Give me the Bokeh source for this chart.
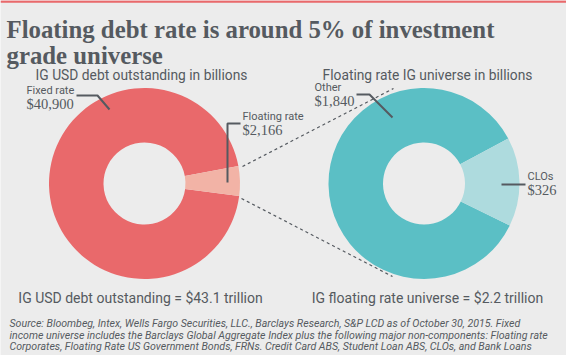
import math
from bokeh.plotting import figure
from bokeh.models import Range1d
from bokeh.core.properties import value
from bokeh.embed import file_html
from bokeh.resources import INLINE

# ---------------- data ----------------
title_lines = ["Floating debt rate is around 5% of investment", "grade universe"]
left_title = "IG USD debt outstanding in billions"
right_title = "Floating rate IG universe in billions"
left_cats = ["Fixed rate", "Floating rate"]
left_vals = [40900, 2166]
right_cats = ["Other", "CLOs"]
right_vals = [1840, 326]
left_total = "IG USD debt outstanding = $43.1 trillion"
right_total = "IG floating rate universe = $2.2 trillion"
source_lines = [
    "Source: Bloombeg, Intex, Wells Fargo Securities, LLC., Barclays Research, S&P LCD as of October 30, 2015. Fixed",
    "income universe includes the Barclays Global Aggregate Index plus the following major non-components: Floating rate",
    "Corporates, Floating Rate US Government Bonds, FRNs. Credit Card ABS, Student Loan ABS, CLOs, and Bank Loans",
]

# ---------------- style ----------------
W, H = 566, 355
BG = "#ececec"
TXT = "#555a60"
RED = "#e9696b"
SALMON = "#f2b3a6"
TEAL = "#5bbfc5"
LTEAL = "#aedbde"
SANS = value("Roboto")
SERIF = value("Liberation Serif")

p = figure(width=W, height=H, output_backend="svg", toolbar_location=None,
           x_range=Range1d(0, W), y_range=Range1d(-H, 0),
           x_axis_type=None, y_axis_type=None,
           min_border=0, min_border_left=0, min_border_right=0,
           min_border_top=0, min_border_bottom=0)
p.background_fill_color = BG
p.border_fill_color = BG
p.outline_line_color = None
p.grid.visible = False

# top accent line
p.segment(x0=[0], y0=[-1], x1=[W], y1=[-1], line_color=RED, line_width=2.5)


def donut(cx, cy, vals, colors, center_deg):
    total = float(sum(vals))
    hi = vals[1] / total * 360.0
    s = math.radians(center_deg - hi / 2.0)
    e = math.radians(center_deg + hi / 2.0)
    p.annular_wedge(x=[cx, cx], y=[-cy, -cy], inner_radius=41, outer_radius=95.5,
                    start_angle=[e, s], end_angle=[s + 2 * math.pi, e],
                    fill_color=colors, line_color=None)


donut(144, 183, left_vals, [RED, SALMON], 1.5)
donut(423.5, 183, right_vals, [TEAL, LTEAL], 1.0)

# dashed connectors
p.segment(x0=[242, 241], y0=[-166, -198], x1=[393, 392], y1=[-88, -276],
          line_color=TXT, line_width=1.2, line_dash="3 3")

# leader lines
p.line(x=[76, 97, 109], y=[-95, -95, -109], line_color=TXT, line_width=2)
p.line(x=[240, 227, 227], y=[-123, -123, -182], line_color=TXT, line_width=2)
p.line(x=[356, 369, 392], y=[-94, -94, -117], line_color=TXT, line_width=2)
p.line(x=[501, 525], y=[-184, -184], line_color=TXT, line_width=2)

# title
p.text(x=[6, 6], y=[-29, -55], text=title_lines, text_font=SERIF,
       text_font_size="24.8px", text_font_style="bold", text_color=TXT,
       text_baseline="alphabetic", text_align="left")

# subtitles
p.text(x=[141, 427], y=[-74, -74], text=[left_title, right_title], text_font=SANS,
       text_font_size="13.8px", text_color=TXT, text_baseline="middle", text_align="center")

# slice labels
lab_x = [26, 242, 314, 527]
lab_y = [90, 116, 87, 176]
cats = [left_cats[0], left_cats[1], right_cats[0], right_cats[1]]
vals = [left_vals[0], left_vals[1], right_vals[0], right_vals[1]]
p.text(x=lab_x, y=[-v for v in lab_y], text=cats, text_font=SANS,
       text_font_size="11px", text_color=TXT, text_baseline="middle", text_align="left")
p.text(x=lab_x, y=[-(v + 13) for v in lab_y], text=[f"${v:,}" for v in vals],
       text_font=SERIF, text_font_size="14.5px", text_color=TXT,
       text_baseline="middle", text_align="left")

# totals
p.text(x=[140, 427], y=[-297, -297], text=[left_total, right_total], text_font=SANS,
       text_font_size="14px", text_color=TXT, text_baseline="middle", text_align="center")

# source
p.text(x=[9, 9, 9], y=[-323, -334.5, -346], text=source_lines, text_font=SANS,
       text_font_size="10.6px", text_font_style="italic", text_color=TXT,
       text_baseline="alphabetic", text_align="left")

open("out.html", "w").write(file_html(p, INLINE))
